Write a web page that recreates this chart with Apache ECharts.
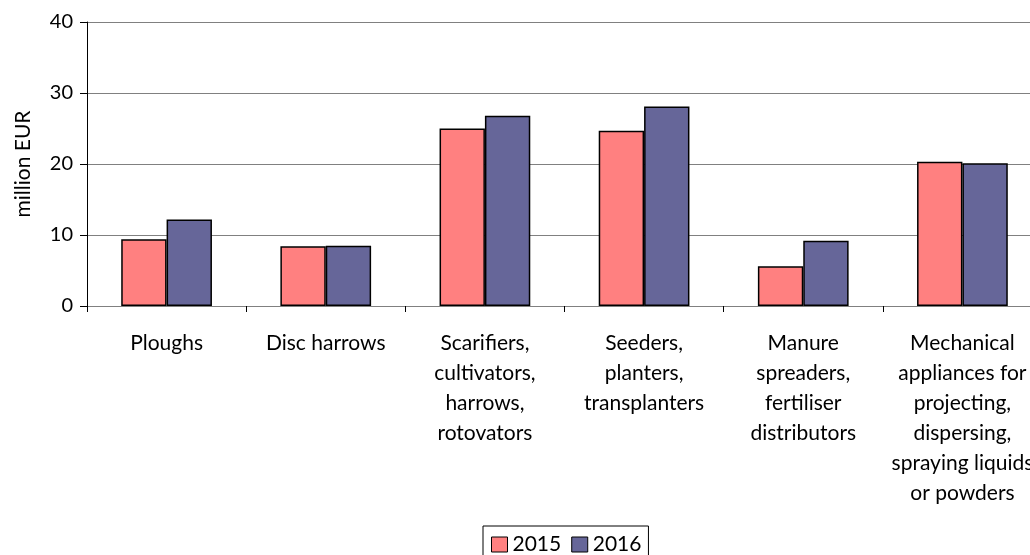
<!DOCTYPE html>
<html>
<head>
<meta charset="utf-8">
<script src="https://cdn.jsdelivr.net/npm/echarts@6/dist/echarts.min.js"></script>
<style>
  html, body { margin: 0; padding: 0; background: #ffffff; }
  #chart { width: 1030px; height: 555px; }
</style>
</head>
<body>
<div id="chart"></div>
<script>
// Machinery categories (line breaks as shown under each group)
const categories = [
  'Ploughs',
  'Disc harrows',
  'Scarifiers,\ncultivators,\nharrows,\nrotovators',
  'Seeders,\nplanters,\ntransplanters',
  'Manure\nspreaders,\nfertiliser\ndistributors',
  'Mechanical\nappliances for\nprojecting,\ndispersing,\nspraying liquids\nor powders'
];

// Values in million EUR
const values2015 = [9.4, 8.4, 25.0, 24.7, 5.6, 20.3];
const values2016 = [12.2, 8.5, 26.8, 28.1, 9.2, 20.1];

const yTicks = { min: 0, max: 40, interval: 10 };

const FONT = 'Lato, "Open Sans", "Liberation Sans", sans-serif';

const chart = echarts.init(document.getElementById('chart'), null, { renderer: 'canvas' });

chart.setOption({
  animation: false,
  backgroundColor: '#ffffff',
  textStyle: { fontFamily: FONT, color: '#000000' },
  // plot area runs slightly past the right edge of the canvas
  grid: {
    left: 87, top: 22, width: 955, height: 284,
    containLabel: false,
    outerBoundsMode: 'none'
  },
  legend: {
    left: 483,
    top: 526,
    icon: 'rect',
    itemWidth: 16,
    itemHeight: 15,
    itemGap: 10,
    padding: [8, 7, 8, 8],
    borderColor: '#000000',
    borderWidth: 1,
    textStyle: { fontFamily: FONT, fontSize: 21, color: '#000000' },
    data: [
      { name: '2015', itemStyle: { borderColor: '#000000', borderWidth: 1 } },
      { name: '2016', itemStyle: { borderColor: '#000000', borderWidth: 1 } }
    ]
  },
  xAxis: {
    type: 'category',
    data: categories,
    axisLine: { show: true, lineStyle: { color: '#808080', width: 1 } },
    axisTick: { show: true, alignWithLabel: false, length: 6, lineStyle: { color: '#000000' } },
    axisLabel: {
      interval: 0,
      margin: 22,
      fontFamily: FONT,
      fontSize: 21,
      lineHeight: 30,
      color: '#000000',
      align: 'center',
      hideOverlap: false
    }
  },
  yAxis: {
    type: 'value',
    min: yTicks.min,
    max: yTicks.max,
    interval: yTicks.interval,
    name: 'million EUR',
    nameLocation: 'middle',
    nameGap: 53,
    nameRotate: 90,
    nameTextStyle: { fontFamily: FONT, fontSize: 21, color: '#000000' },
    axisLine: { show: true, lineStyle: { color: '#000000', width: 1 } },
    axisTick: { show: true, length: 7, lineStyle: { color: '#000000' } },
    axisLabel: { margin: 14, fontFamily: FONT, fontSize: 20, color: '#000000' },
    splitLine: { show: true, lineStyle: { color: '#808080', width: 1 } }
  },
  series: [
    {
      name: '2015',
      type: 'bar',
      data: values2015,
      barGap: '0%',
      barCategoryGap: '43%',
      itemStyle: { color: '#FF8080', borderColor: '#000000', borderWidth: 1.5 }
    },
    {
      name: '2016',
      type: 'bar',
      data: values2016,
      barGap: '0%',
      barCategoryGap: '43%',
      itemStyle: { color: '#666699', borderColor: '#000000', borderWidth: 1.5 }
    }
  ]
});
</script>
</body>
</html>
